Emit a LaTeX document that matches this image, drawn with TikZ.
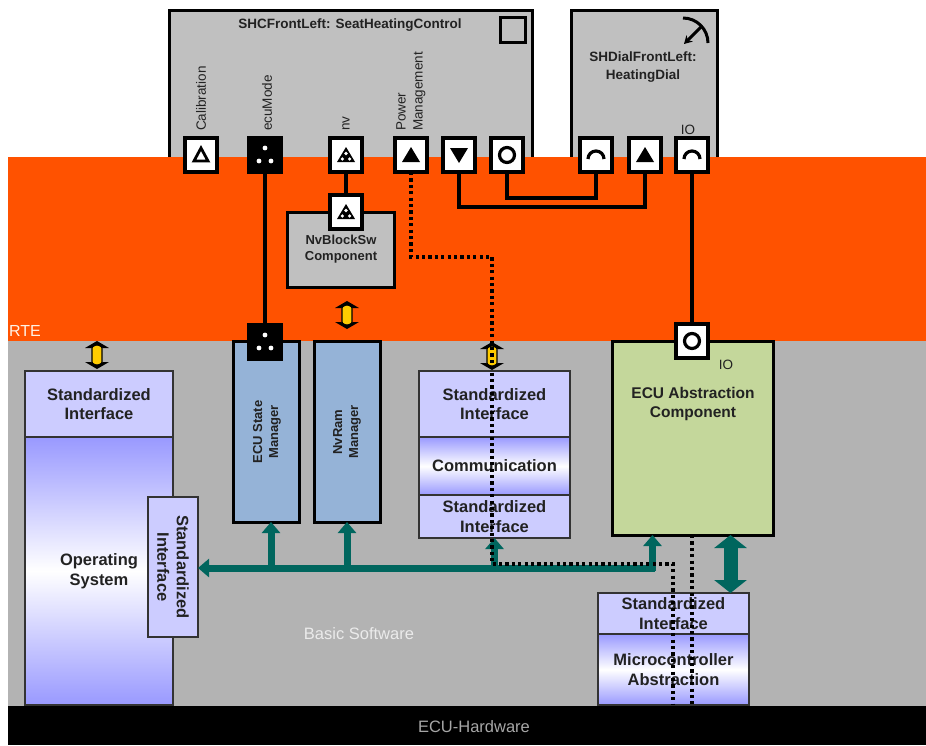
\documentclass[tikz,border=0pt]{standalone}
\usepackage{fontspec}
\setmainfont{Liberation Sans}
\usetikzlibrary{arrows.meta,calc}

\definecolor{rteorange}{HTML}{FF5200}
\definecolor{bswgray}{HTML}{B3B3B3}
\definecolor{compgray}{HTML}{C0C0C0}
\definecolor{lav}{HTML}{CCCCFF}
\definecolor{osviolet}{HTML}{9999FF}
\definecolor{svcblue}{HTML}{95B3D7}
\definecolor{ecugreen}{HTML}{C4D79B}
\definecolor{busteal}{HTML}{00665E}
\definecolor{ylw}{HTML}{FFCC00}
\definecolor{txtdark}{HTML}{222222}

\newcommand\biglbl{\fontsize{16.5}{19.5}\selectfont\bfseries}
\newcommand\ablbl{\fontsize{15.5}{18.5}\selectfont\bfseries}
\newcommand\ttllbl{\fontsize{13.5}{18}\selectfont\bfseries}
\newcommand\svclbl{\fontsize{13}{16}\selectfont\bfseries}
\newcommand\portlbl{\fontsize{13.5}{17}\selectfont}

\begin{document}
\begin{tikzpicture}[x=1pt,y=-1pt,
  comp/.style={draw=black, fill=compgray, line width=3pt, inner sep=0pt, outer sep=0pt,
    text=txtdark, align=center},
  stack/.style={draw=black!80, fill=lav, line width=1.8pt, inner sep=0pt, outer sep=0pt,
    text=txtdark, align=center, font=\biglbl},
  grad/.style={top color=osviolet, bottom color=osviolet, middle color=white},
  svc/.style={draw=black, fill=svcblue, line width=3pt, inner sep=0pt, outer sep=0pt},
  port/.style={draw=black, fill=white, line width=3.2pt, minimum width=32pt,
    minimum height=34pt, inner sep=0pt, outer sep=0pt},
  bport/.style={port, fill=black},
  wire/.style={draw=black, line width=3.8pt},
  dotline/.style={draw=black, line width=3.2pt, dash pattern=on 3.2pt off 3.2pt},
  bus/.style={draw=busteal, line width=7pt},
  bustip/.style={-{Triangle[width=18pt,length=11pt]}},
  plabel/.style={rotate=90, anchor=west, inner sep=0pt, font=\portlbl, text=txtdark, align=left},
  pics/triout/.style={code={\draw[line width=2.8pt, line join=miter] (-7,6) -- (7,6) -- (0,-7) -- cycle;}},
  pics/triup/.style={code={\fill (-9,7) -- (9,7) -- (0,-8) -- cycle;}},
  pics/tridown/.style={code={\fill (-9,-7) -- (9,-7) -- (0,8) -- cycle;}},
  pics/trinv/.style={code={\fill (-9,7) -- (9,7) -- (0,-8) -- cycle;
      \fill[white] (0,-1.5) circle (1.8) (-3.6,4) circle (1.8) (3.6,4) circle (1.8);}},
  pics/modedots/.style={code={\fill[white] (0,-7) circle (2.4) (-6,6) circle (2.4) (6,6) circle (2.4);}},
  pics/ring/.style={code={\draw[line width=3.2pt] (0,0) circle (7.5);}},
  pics/cap/.style={code={\draw[line width=3.2pt] (-8,4) arc (180:360:8);}},
  pics/yarrow/.style={code={
      \filldraw[fill=ylw, draw=black, line width=1.2pt, rounded corners=3pt] (-5,-10) rectangle (5,10);
      \fill[black] (0,-14) -- (12,-7) -- (6,-7) -- (0,-10) -- (-6,-7) -- (-12,-7) -- cycle;
      \fill[black] (0,14) -- (12,7) -- (6,7) -- (0,10) -- (-6,7) -- (-12,7) -- cycle;}}
]
\useasboundingbox (0,0) rectangle (926,745);
\fill[white] (0,0) rectangle (926,745);

% application software components
\node[comp, minimum width=363pt, minimum height=150pt, anchor=north west] (shc) at (169,10) {};
\node[comp, minimum width=146pt, minimum height=150pt, anchor=north west] (dial) at (571,10) {};
\node[font=\ttllbl, text=txtdark] (shctitle) at (350,25) {SHCFrontLeft: SeatHeatingControl};
\node[font=\ttllbl, text=txtdark, align=center] (dialtitle) at (643,67) {SHDialFrontLeft:\\HeatingDial};
% component icons
\draw[line width=3pt] (500,17) rectangle (525,42);
\draw[line width=3pt] (683,18) arc (270:360:25);
\draw[line width=3pt, -{Stealth[length=8pt,width=9pt]}] (701,27) -- (684,44);

% layers
\fill[rteorange] (8,157) rectangle (926,341);
\fill[bswgray] (8,341) rectangle (926,706);
\fill[black] (8,706) rectangle (926,745);
\node[anchor=south west, inner sep=0pt, font=\fontsize{16}{18}\selectfont, text=white!90!orange] (rte) at (9,337) {RTE};
\node[font=\fontsize{16.5}{18}\selectfont, text=white!92!black] (bsw) at (359,634) {Basic Software};
\node[font=\fontsize{16.5}{18}\selectfont, text=black!35] (hw) at (474,727) {ECU-Hardware};

% port labels
\node[plabel] (lcal) at (201,131) {Calibration};
\node[plabel] (lecu) at (267,131) {ecuMode};
\node[plabel] (lnv) at (346,131) {nv};
\node[plabel] (lpm) at (411,131) {Power\\Management};
\node[font=\portlbl, text=txtdark] (lio) at (688,130) {IO};

% NvBlockSw component in the RTE
\node[comp, minimum width=107pt, minimum height=75pt, font=\svclbl] (nvb) at (341,249.5) {NvBlockSw\\Component};

% basic software modules
\node[stack, minimum width=148pt, minimum height=66pt] (ossi) at (99,404) {Standardized\\Interface};
\node[stack, grad, minimum width=148pt, minimum height=268pt] (os) at (99,571) {};
\node[font=\biglbl, text=txtdark, align=center] (ostxt) at (99,571) {Operating\\System};
\node[stack, minimum width=50pt, minimum height=140pt] (ossi2) at (173,567) {};
\node[rotate=-90, font=\biglbl, text=txtdark, align=center] (ossi2txt) at (173,567) {Standardized\\Interface};

\node[svc, minimum width=66pt, minimum height=181pt] (ecusm) at (266,431.5) {};
\node[rotate=90, font=\svclbl, text=txtdark, align=center] (ecusmtxt) at (267,432) {ECU State\\Manager};
\node[svc, minimum width=66pt, minimum height=181pt] (nvram) at (347,431.5) {};
\node[rotate=90, font=\svclbl, text=txtdark, align=center] (nvramtxt) at (347,432) {NvRam\\Manager};

\node[stack, minimum width=151pt, minimum height=66pt] (comsi) at (494.5,404) {Standardized\\Interface};
\node[stack, grad, minimum width=151pt, minimum height=58pt] (com) at (494.5,466) {Communication};
\node[stack, minimum width=151pt, minimum height=43pt] (comsi2) at (494.5,516.5) {Standardized\\Interface};

\node[comp, fill=ecugreen, minimum width=161pt, minimum height=194pt] (ecuab) at (692.5,438) {};
\node[font=\ablbl, text=txtdark, align=center] (ecuabtxt) at (693,404) {ECU Abstraction\\Component};
\node[font=\portlbl, text=txtdark] (lio2) at (726,365) {IO};

\node[stack, minimum width=151pt, minimum height=41pt] (mcusi) at (673.5,613.5) {Standardized\\Interface};
\node[stack, grad, minimum width=151pt, minimum height=71pt] (mcu) at (673.5,669.5) {Microcontroller\\Abstraction};

% ports
\node[port] (pcal) at (201,155) {};
\node[bport] (pecu) at (265,155) {};
\node[port] (pnv) at (346,155) {};
\node[port] (ppm) at (411,155) {};
\node[port] (pout) at (459,155) {};
\node[port] (pcs) at (507,155) {};
\node[port] (dcs) at (596,155) {};
\node[port] (din) at (645,155) {};
\node[port] (dio) at (692,155) {};
\node[port] (nvbport) at (346,212) {};
\node[bport] (smport) at (265,342) {};
\node[port] (abport) at (692,341) {};

% RTE connections
\draw[wire] (pecu) -- (smport);
\draw[wire] (pnv) -- (nvbport);
\draw[wire] (dio) -- (abport);
\draw[wire] (pout.south) -- ++(0,35) -| (din.south);
\draw[wire] (pcs.south) -- ++(0,26) -| (dcs.south);

% port symbols
\pic at (pcal) {triout};
\pic at (pecu) {modedots};
\pic at (pnv) {trinv};
\pic at (ppm) {triup};
\pic at (pout) {tridown};
\pic at (pcs) {ring};
\pic at (dcs) {cap};
\pic at (din) {triup};
\pic at (dio) {cap};
\pic at (nvbport) {trinv};
\pic at (smport) {modedots};
\pic at (abport) {ring};

% RTE to basic software interfaces
\pic at (97,355) {yarrow};
\pic at (347,315) {yarrow};
\pic at (492,356) {yarrow};

% internal basic software bus
\coordinate (busR) at (655,568);
\draw[bus, bustip] (busR) -- (busR -| ossi2.east);
\draw[bus, bustip] ([xshift=5pt]ecusm.south |- busR) -- ([xshift=5pt]ecusm.south);
\draw[bus, bustip] (nvram.south |- busR) -- (nvram.south);
\draw[bus, bustip] ([yshift=-3pt]comsi2.south |- busR) -- (comsi2.south);
\draw[bus, bustip] ([xshift=-40pt]ecuab.south |- 0,571) -- ([xshift=-40pt]ecuab.south);
\draw[draw=busteal, line width=14pt, {Triangle[width=32pt,length=13pt]}-{Triangle[width=32pt,length=13pt]}]
  ([xshift=38pt]ecuab.south) -- ([xshift=38pt]ecuab.south |- mcusi.north);

% power management signal path
\coordinate (dA) at (492,257);
\coordinate (dB) at (492,564);
\coordinate (dC) at (673,564);
\coordinate (dD) at (673,704);
\draw[dotline] (ppm.south) |- (dA) -- (dB) -- (dC) -- (dD);
\coordinate (dE) at (692,704);
\draw[dotline] (ecuab.south -| dE) -- (dE);
\end{tikzpicture}
\end{document}
